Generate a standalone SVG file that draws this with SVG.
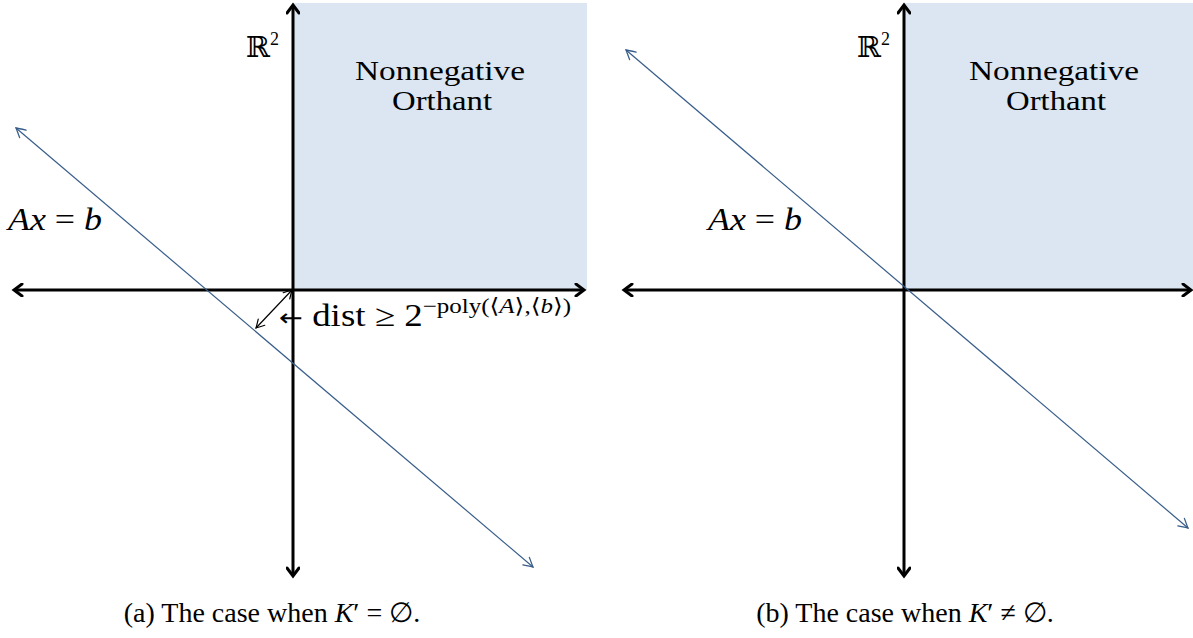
<svg xmlns="http://www.w3.org/2000/svg" width="1193" height="638" viewBox="0 0 1193 638">
<style>
.t{font-family:"Liberation Serif","DejaVu Serif",serif;fill:#000}
.i{font-style:italic}
.ar{font-family:"DejaVu Sans",sans-serif}
.axis{stroke:#000;stroke-width:3;fill:none}
.line{stroke:#385d8a;stroke-width:1.2;fill:none}
.dist{stroke:#000;stroke-width:1.2;fill:none}
.shade{fill:#dce6f2}
</style>
<defs>
<marker id="ah" markerWidth="14" markerHeight="14" refX="0" refY="0" viewBox="-10 -7 14 14" orient="auto-start-reverse" markerUnits="userSpaceOnUse">
<path d="M-8,-6 Q-2,-1.5 0,0 Q-2,1.5 -8,6" stroke="#000" stroke-width="3" fill="none" stroke-linecap="round"/>
</marker>
<marker id="lh" markerWidth="14" markerHeight="14" refX="0" refY="0" viewBox="-10 -7 14 14" orient="auto-start-reverse" markerUnits="userSpaceOnUse">
<path d="M-9,-5 Q-2,-1 0,0 Q-2,1 -9,5" stroke="#385d8a" stroke-width="1.3" fill="none" stroke-linecap="round"/>
</marker>
<marker id="dh" markerWidth="14" markerHeight="14" refX="0" refY="0" viewBox="-10 -7 14 14" orient="auto-start-reverse" markerUnits="userSpaceOnUse">
<path d="M-8,-4.5 Q-2,-1 0,0 Q-2,1 -8,4.5" stroke="#000" stroke-width="1.2" fill="none" stroke-linecap="round"/>
</marker>
</defs>

<g id="panel-a">
<rect id="orthant-a" class="shade" x="293" y="3" width="294" height="287"/>
<g id="labels-a">
<text class="t" x="246" y="57" font-size="29">ℝ<tspan font-size="18" dy="-12">2</tspan></text>
<text class="t" x="440" y="80" font-size="28" text-anchor="middle" textLength="170" lengthAdjust="spacingAndGlyphs">Nonnegative</text>
<text class="t" x="442" y="110" font-size="28" text-anchor="middle" textLength="100" lengthAdjust="spacingAndGlyphs">Orthant</text>
<text class="t" x="8" y="230" font-size="32" textLength="94" lengthAdjust="spacingAndGlyphs"><tspan class="i">Ax</tspan> = <tspan class="i">b</tspan></text>
<text class="t" x="279" y="326" font-size="31" textLength="292" lengthAdjust="spacingAndGlyphs"><tspan class="ar" font-size="24">←</tspan> dist ≥ 2<tspan font-size="21" dy="-13">−poly(⟨<tspan class="i">A</tspan>⟩,⟨<tspan class="i">b</tspan>⟩)</tspan></text>
<text class="t" x="272" y="622" font-size="28" text-anchor="middle">(a) The case when <tspan class="i">K</tspan>′ = ∅.</text>
</g>
</g>

<g id="panel-b">
<rect id="orthant-b" class="shade" x="904" y="3" width="289" height="287"/>
<g id="labels-b">
<text class="t" x="857" y="57" font-size="29">ℝ<tspan font-size="18" dy="-12">2</tspan></text>
<text class="t" x="1054" y="80" font-size="28" text-anchor="middle" textLength="170" lengthAdjust="spacingAndGlyphs">Nonnegative</text>
<text class="t" x="1056" y="110" font-size="28" text-anchor="middle" textLength="100" lengthAdjust="spacingAndGlyphs">Orthant</text>
<text class="t" x="708" y="230" font-size="32" textLength="94" lengthAdjust="spacingAndGlyphs"><tspan class="i">Ax</tspan> = <tspan class="i">b</tspan></text>
<text class="t" x="905" y="622" font-size="28" text-anchor="middle">(b) The case when <tspan class="i">K</tspan>′ ≠ ∅.</text>
</g>
</g>

<g id="connectors">
<line class="axis" x1="14" y1="290" x2="584" y2="290" marker-start="url(#ah)" marker-end="url(#ah)"/>
<line class="axis" x1="293" y1="576" x2="293" y2="5" marker-start="url(#ah)" marker-end="url(#ah)"/>
<line class="line" x1="16" y1="128" x2="533" y2="567" marker-start="url(#lh)" marker-end="url(#lh)"/>
<line class="dist" x1="292" y1="290" x2="256" y2="328" marker-start="url(#dh)" marker-end="url(#dh)"/>
<line class="axis" x1="624" y1="290" x2="1191" y2="290" marker-start="url(#ah)" marker-end="url(#ah)"/>
<line class="axis" x1="904" y1="576" x2="904" y2="5" marker-start="url(#ah)" marker-end="url(#ah)"/>
<line class="line" x1="626" y1="50" x2="1188" y2="528" marker-start="url(#lh)" marker-end="url(#lh)"/>
</g>
</svg>
